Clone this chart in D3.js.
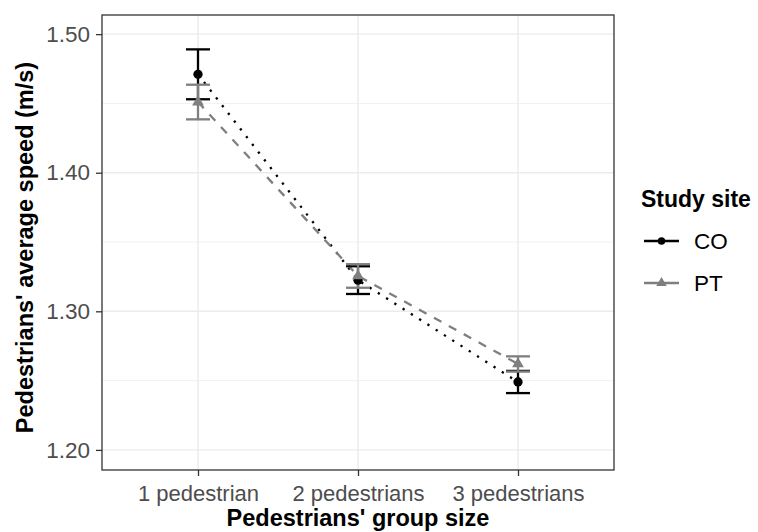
<!DOCTYPE html>
<html>
<head>
<meta charset="utf-8">
<script src="https://cdn.jsdelivr.net/npm/d3@7"></script>
<style>
  html, body { margin: 0; padding: 0; background: #fff; }
  svg { display: block; font-family: "Liberation Sans", Arial, sans-serif; }
</style>
</head>
<body>
<div id="chart"></div>
<script>
// Group sizes on the x axis
const categories = ["1 pedestrian", "2 pedestrians", "3 pedestrians"];
// Mean speed (m/s) and error-bar half widths per study site
const coMean = [1.471, 1.3225, 1.249];
const coErr  = [0.018, 0.0100, 0.008];
const ptMean = [1.451, 1.3255, 1.262];
const ptErr  = [0.0125, 0.0085, 0.0055];
const yTicks = [1.20, 1.30, 1.40, 1.50];
const yMinor = [1.25, 1.35, 1.45];
const siteNames = ["CO", "PT"];

const W = 758, H = 532;
const panel = { left: 102, right: 614, top: 15, bottom: 470 };
const FONT = "Liberation Sans, Arial, sans-serif";

const svg = d3.select("#chart").append("svg")
  .attr("width", W).attr("height", H);

const x = d3.scalePoint()
  .domain(categories)
  .range([panel.left, panel.right])
  .padding(0.6);

const y = d3.scaleLinear()
  .domain([1.1855, 1.5138])
  .range([panel.bottom, panel.top]);

// grid
const grid = svg.append("g");
grid.selectAll("line.minor").data(yMinor).join("line")
  .attr("x1", panel.left).attr("x2", panel.right)
  .attr("y1", d => y(d)).attr("y2", d => y(d))
  .attr("stroke", "#ebebeb").attr("stroke-width", 0.7);
grid.selectAll("line.majory").data(yTicks).join("line")
  .attr("x1", panel.left).attr("x2", panel.right)
  .attr("y1", d => y(d)).attr("y2", d => y(d))
  .attr("stroke", "#ebebeb").attr("stroke-width", 1.4);
grid.selectAll("line.majorx").data(categories).join("line")
  .attr("y1", panel.top).attr("y2", panel.bottom)
  .attr("x1", d => x(d)).attr("x2", d => x(d))
  .attr("stroke", "#ebebeb").attr("stroke-width", 1.4);

const series = [
  { name: siteNames[0], mean: coMean, err: coErr, color: "#000000", dash: "2.3,7.5", shape: d3.symbolCircle, size: 68, keySize: 45 },
  { name: siteNames[1], mean: ptMean, err: ptErr, color: "#7f7f7f", dash: "8.5,8.5", shape: d3.symbolTriangle, size: 60, keySize: 48 }
];

const line = d3.line().x((d, i) => x(categories[i])).y(d => y(d));
const capHalf = 12;
const lw = 2.3;

// connecting lines
series.forEach(s => {
  svg.append("path")
    .attr("d", line(s.mean))
    .attr("fill", "none")
    .attr("stroke", s.color)
    .attr("stroke-width", lw)
    .attr("stroke-dasharray", s.dash);
});

// error bars
series.forEach(s => {
  const g = svg.append("g");
  const eb = g.selectAll("g").data(s.mean).join("g");
  eb.append("line")
    .attr("x1", (d, i) => x(categories[i])).attr("x2", (d, i) => x(categories[i]))
    .attr("y1", (d, i) => y(d - s.err[i])).attr("y2", (d, i) => y(d + s.err[i]))
    .attr("stroke", s.color).attr("stroke-width", lw);
  [-1, 1].forEach(sign => {
    eb.append("line")
      .attr("x1", (d, i) => x(categories[i]) - capHalf)
      .attr("x2", (d, i) => x(categories[i]) + capHalf)
      .attr("y1", (d, i) => y(d + sign * s.err[i]))
      .attr("y2", (d, i) => y(d + sign * s.err[i]))
      .attr("stroke", s.color).attr("stroke-width", lw);
  });
});

// points
series.forEach(s => {
  const sym = d3.symbol().type(s.shape).size(s.size);
  svg.append("g").selectAll("path").data(s.mean).join("path")
    .attr("transform", (d, i) => `translate(${x(categories[i])},${y(d)})`)
    .attr("d", sym())
    .attr("fill", s.color);
});

// panel border
svg.append("rect")
  .attr("x", panel.left).attr("y", panel.top)
  .attr("width", panel.right - panel.left).attr("height", panel.bottom - panel.top)
  .attr("fill", "none").attr("stroke", "#333333").attr("stroke-width", 1.3);

// y axis
const yAxis = svg.append("g").attr("transform", `translate(${panel.left},0)`)
  .call(d3.axisLeft(y).tickValues(yTicks).tickFormat(d3.format(".2f")).tickSize(6).tickPadding(6));
yAxis.select(".domain").remove();
yAxis.selectAll(".tick line").attr("stroke", "#333333").attr("stroke-width", 1.3);
yAxis.selectAll(".tick text").attr("fill", "#4d4d4d").attr("font-size", 22.5)
  .attr("font-family", FONT);

// x axis
const xAxis = svg.append("g").attr("transform", `translate(0,${panel.bottom})`)
  .call(d3.axisBottom(x).tickSize(6).tickPadding(9));
xAxis.select(".domain").remove();
xAxis.selectAll(".tick line").attr("stroke", "#333333").attr("stroke-width", 1.3);
xAxis.selectAll(".tick text").attr("fill", "#4d4d4d").attr("font-size", 22)
  .attr("font-family", FONT);

// axis titles
svg.append("text")
  .attr("x", (panel.left + panel.right) / 2).attr("y", 526)
  .attr("text-anchor", "middle")
  .attr("font-size", 23.5).attr("font-weight", "bold").attr("fill", "#000")
  .text("Pedestrians' group size");

svg.append("text")
  .attr("transform", `translate(33,${(panel.top + panel.bottom) / 2 + 5}) rotate(-90)`)
  .attr("text-anchor", "middle")
  .attr("font-size", 23.5).attr("font-weight", "bold").attr("fill", "#000")
  .text("Pedestrians' average speed (m/s)");

// legend
const lg = svg.append("g");
lg.append("text")
  .attr("x", 641).attr("y", 207)
  .attr("font-size", 23).attr("font-weight", "bold").attr("fill", "#000")
  .text("Study site");

series.forEach((s, k) => {
  const cy = 241 + k * 42;
  lg.append("line")
    .attr("x1", 644).attr("x2", 679).attr("y1", cy).attr("y2", cy)
    .attr("stroke", s.color).attr("stroke-width", lw);
  const sym = d3.symbol().type(s.shape).size(s.keySize);
  lg.append("path")
    .attr("transform", `translate(661.5,${cy})`)
    .attr("d", sym()).attr("fill", s.color);
  lg.append("text")
    .attr("x", 694).attr("y", cy + 8)
    .attr("font-size", 22.5).attr("fill", "#000")
    .text(s.name);
});
</script>
</body>
</html>
